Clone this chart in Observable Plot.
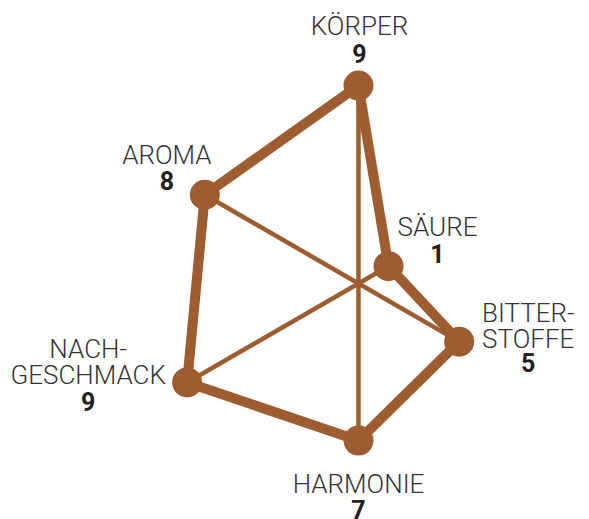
<!DOCTYPE html>
<html>
<head>
<meta charset="utf-8">
<script src="https://cdn.jsdelivr.net/npm/d3@7"></script>
<script src="https://cdn.jsdelivr.net/npm/@observablehq/plot@0.6"></script>
<style>
  html, body { margin: 0; padding: 0; background: #fff; }
  #chart svg { display: block; }
</style>
</head>
<body>
<div id="chart"></div>
<script>
// Data
const categories = ["KÖRPER", "SÄURE", "BITTER-\nSTOFFE", "HARMONIE", "NACH-\nGESCHMACK", "AROMA"];
const values = [9, 1, 5, 7, 9, 8];

// Radial layout (angle clockwise from top)
const offset = 0.7;
const rows = categories.map((c, i) => {
  const a = (i * 2 * Math.PI) / categories.length;
  const r = values[i] + offset;
  return {cat: c, value: values[i], x: r * Math.sin(a), y: r * Math.cos(a)};
});

const brown = "#9d5d30";

// label offsets (pixels) per axis: dx, baseline of each label line and of the number, relative to point
const labelPos = [
  {dx: 1, lines: [-51], num: -23},
  {dx: 49, lines: [-30], num: -3},
  {dx: 69, lines: [-20, 6], num: 30},
  {dx: 0, lines: [52], num: 78},
  {dx: -99, lines: [-24, 2], num: 29},
  {dx: -38, lines: [-31], num: -5}
];
const fsLabel = 26, fsNum = 25;

const textMarks = [];
rows.forEach((d, i) => {
  const p = labelPos[i];
  d.cat.split("\n").forEach((line, j) => {
    textMarks.push(Plot.text([d], {
      x: "x", y: "y", text: () => line,
      dx: p.dx, dy: p.lines[j] - 0.32 * fsLabel,
      fontSize: fsLabel, fontWeight: 300, fill: "#333",
      textAnchor: "middle", lineAnchor: "middle"
    }));
  });
  textMarks.push(Plot.text([d], {
    x: "x", y: "y", text: (r) => String(r.value),
    dx: p.dx, dy: p.num - 0.32 * fsNum,
    fontSize: fsNum, fontWeight: 700, fill: "#222",
    textAnchor: "middle", lineAnchor: "middle"
  }));
});

const W = 589, H = 519, cx = 358, cy = 283, k = 20.4;

const chart = Plot.plot({
  width: W,
  height: H,
  margin: 0,
  style: {fontFamily: "Roboto, sans-serif", background: "#fff"},
  x: {domain: [-cx / k, (W - cx) / k], axis: null},
  y: {domain: [-(H - cy) / k, cy / k], axis: null},
  marks: [
    Plot.link(rows, {x1: () => 0, y1: () => 0, x2: "x", y2: "y", stroke: brown, strokeWidth: 4.5}),
    Plot.line(rows, {x: "x", y: "y", curve: "linear-closed", stroke: brown, strokeWidth: 10, strokeLinejoin: "round"}),
    Plot.dot(rows, {x: "x", y: "y", r: 15, fill: brown, stroke: "none"}),
    ...textMarks
  ]
});
document.getElementById("chart").appendChild(chart);
</script>
</body>
</html>
